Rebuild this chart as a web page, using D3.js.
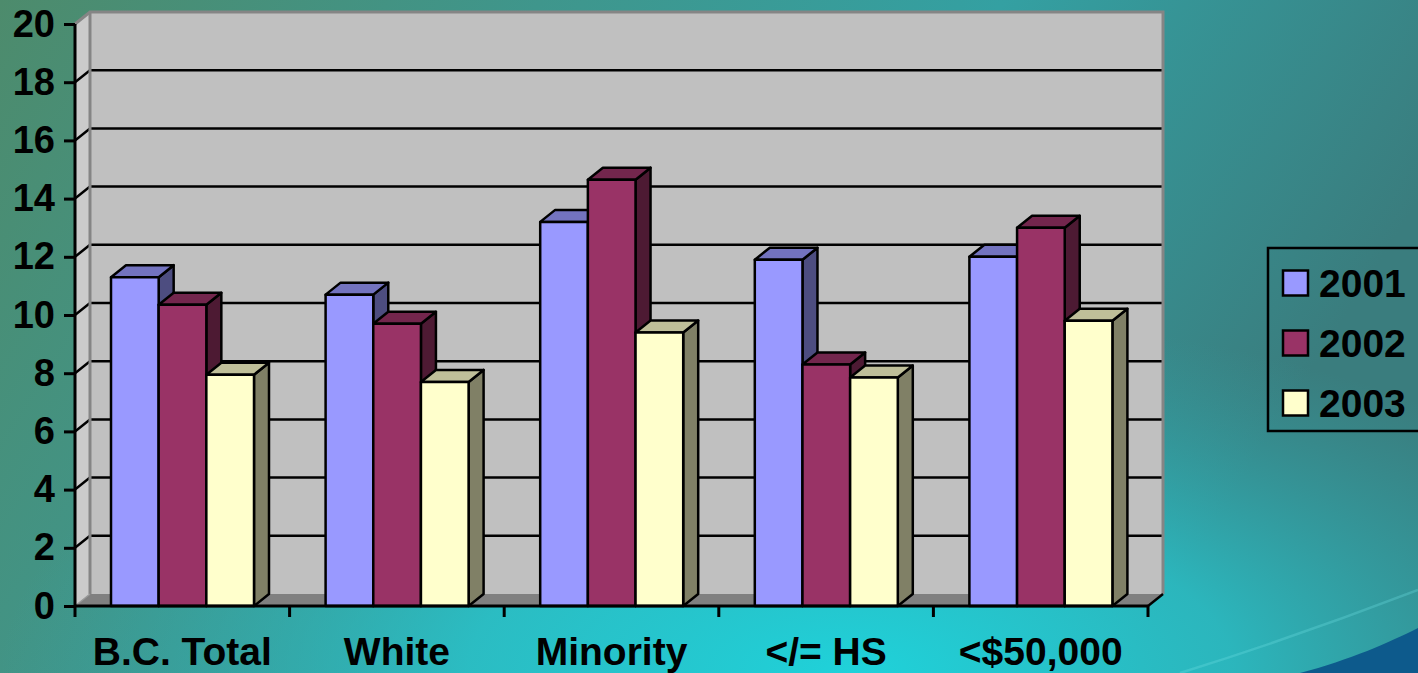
<!DOCTYPE html>
<html>
<head>
<meta charset="utf-8">
<script src="https://cdn.jsdelivr.net/npm/d3@7"></script>
<style>
  html, body { margin: 0; padding: 0; overflow: hidden; }
  svg { display: block; }
  text { font-family: "Liberation Sans", Arial, sans-serif; font-weight: bold; fill: #000; }
</style>
</head>
<body>
<div id="chart"></div>
<script>
// chart data
var categories = ['B.C. Total', 'White', 'Minority', '</= HS', '<$50,000'];
var years = ['2001', '2002', '2003'];
var v2001 = [11.3, 10.7, 13.2, 11.9, 12.0];
var v2002 = [10.35, 9.7, 14.65, 8.3, 13.0];
var v2003 = [7.95, 7.7, 9.4, 7.85, 9.8];
var yTicks = [0, 2, 4, 6, 8, 10, 12, 14, 16, 18, 20];

var seriesValues = [v2001, v2002, v2003];
var faceColors = ['#9999ff', '#993366', '#ffffcc'];

var width = 1418, height = 673;
var dx = 15, dy = -12; // depth offset of the 3d box

var svg = d3.select('#chart')
    .append('svg')
    .attr('width', width)
    .attr('height', height);

// background
var defs = svg.append('defs');
var bg = defs.append('linearGradient').attr('id', 'bg')
    .attr('x1', '0').attr('y1', '0').attr('x2', '1').attr('y2', '0.3');
bg.append('stop').attr('offset', '0').attr('stop-color', '#4d8b6c');
bg.append('stop').attr('offset', '0.35').attr('stop-color', '#3f968c');
bg.append('stop').attr('offset', '0.65').attr('stop-color', '#34a0a2');
bg.append('stop').attr('offset', '1').attr('stop-color', '#3a7d7e');

var glow = defs.append('radialGradient').attr('id', 'glow')
    .attr('cx', '0.6').attr('cy', '1').attr('r', '0.6')
    .attr('gradientTransform', 'translate(0.6,1) scale(1,0.9) translate(-0.6,-1)');
glow.append('stop').attr('offset', '0').attr('stop-color', '#1fd2da').attr('stop-opacity', 1);
glow.append('stop').attr('offset', '0.45').attr('stop-color', '#28c4cc').attr('stop-opacity', 0.8);
glow.append('stop').attr('offset', '1').attr('stop-color', '#30a8ac').attr('stop-opacity', 0);

svg.append('rect').attr('width', width).attr('height', height).attr('fill', 'url(#bg)');
svg.append('rect').attr('width', width).attr('height', height).attr('fill', 'url(#glow)');

// dark swoosh bottom right
svg.append('path')
    .attr('d', 'M1418,628 C1390,642 1350,660 1300,673 L1418,673 Z')
    .attr('fill', '#0d5a8c');
svg.append('path')
    .attr('d', 'M1418,590 C1340,620 1260,648 1180,673')
    .attr('fill', 'none')
    .attr('stroke', '#6fe0e6')
    .attr('stroke-opacity', 0.3)
    .attr('stroke-width', 2.5);

// scales
var x0 = d3.scaleBand().domain(categories).range([75, 1148]);
var x1 = d3.scaleBand().domain(years).range([36, 179]);
var y = d3.scaleLinear().domain([0, 20]).range([606, 24]);

var left = x0.range()[0], right = x0.range()[1];
var yTop = y(20), yBot = y(0);

// walls
var walls = svg.append('g');
// left wall
walls.append('polygon')
    .attr('points', [[left, yTop], [left + dx, yTop + dy], [left + dx, yBot + dy], [left, yBot]].join(' '))
    .attr('fill', '#cbcbcb');
// back wall
walls.append('rect')
    .attr('x', left + dx).attr('y', yTop + dy)
    .attr('width', right - left).attr('height', yBot - yTop)
    .attr('fill', '#c0c0c0');
// floor
walls.append('polygon')
    .attr('points', [[left, yBot], [right, yBot], [right + dx, yBot + dy], [left + dx, yBot + dy]].join(' '))
    .attr('fill', '#808080');

// gridlines
yTicks.filter(function(t) { return t > 0 && t < 20; }).forEach(function(t) {
    walls.append('line')
        .attr('x1', left + dx).attr('x2', right + dx)
        .attr('y1', y(t) + dy).attr('y2', y(t) + dy)
        .attr('stroke', '#000').attr('stroke-width', 2.5);
    walls.append('line')
        .attr('x1', left).attr('x2', left + dx)
        .attr('y1', y(t)).attr('y2', y(t) + dy)
        .attr('stroke', '#000').attr('stroke-width', 2.5);
});

// wall edges
walls.append('polyline')
    .attr('points', [[left, yTop], [left + dx, yTop + dy], [right + dx, yTop + dy], [right + dx, yBot + dy]].join(' '))
    .attr('fill', 'none').attr('stroke', '#858585').attr('stroke-width', 3);
walls.append('line')
    .attr('x1', left + dx).attr('x2', left + dx)
    .attr('y1', yTop + dy).attr('y2', yBot + dy)
    .attr('stroke', '#858585').attr('stroke-width', 3);
walls.append('line')
    .attr('x1', left).attr('x2', left + dx)
    .attr('y1', yBot).attr('y2', yBot + dy)
    .attr('stroke', '#9a9a9a').attr('stroke-width', 1.5);
walls.append('line')
    .attr('x1', right).attr('x2', right + dx)
    .attr('y1', yBot).attr('y2', yBot + dy)
    .attr('stroke', '#000').attr('stroke-width', 2.5);

// bars
function shade(c, k) {
    var col = d3.rgb(c);
    return d3.rgb(col.r * k, col.g * k, col.b * k).toString();
}

var bars = svg.append('g')
    .attr('stroke', '#000')
    .attr('stroke-width', 2.5)
    .attr('stroke-linejoin', 'round');

categories.forEach(function(cat, ci) {
    years.forEach(function(yr, si) {
        var v = seriesValues[si][ci];
        var bx = x0(cat) + x1(yr);
        var bw = x1.bandwidth();
        var top = y(v);
        // side
        bars.append('polygon')
            .attr('points', [[bx + bw, top], [bx + bw + dx, top + dy], [bx + bw + dx, yBot + dy], [bx + bw, yBot]].join(' '))
            .attr('fill', shade(faceColors[si], 0.5));
        // top
        bars.append('polygon')
            .attr('points', [[bx, top], [bx + dx, top + dy], [bx + bw + dx, top + dy], [bx + bw, top]].join(' '))
            .attr('fill', shade(faceColors[si], 0.75));
        // front
        bars.append('rect')
            .attr('x', bx).attr('y', top)
            .attr('width', bw).attr('height', yBot - top)
            .attr('fill', faceColors[si]);
    });
});

// y axis
var yAxis = svg.append('g')
    .attr('transform', 'translate(' + left + ',0)')
    .call(d3.axisLeft(y).tickValues(yTicks).tickSize(11).tickPadding(9));
yAxis.select('.domain').attr('stroke', '#000').attr('stroke-width', 3)
    .attr('d', 'M0,' + yTop + 'V' + yBot);
yAxis.selectAll('.tick line').attr('stroke', '#000').attr('stroke-width', 3);
yAxis.selectAll('.tick text')
    .attr('font-size', 38)
    .attr('font-family', '"Liberation Sans", Arial, sans-serif')
    .attr('font-weight', 'bold')
    .attr('fill', '#000');

// x axis
var xAxis = svg.append('g')
    .attr('transform', 'translate(0,' + yBot + ')')
    .call(d3.axisBottom(x0).tickSize(0).tickPadding(31));
xAxis.select('.domain').attr('stroke', '#000').attr('stroke-width', 3)
    .attr('d', 'M' + left + ',0H' + right);
xAxis.selectAll('.tick text')
    .attr('font-size', 39)
    .attr('font-family', '"Liberation Sans", Arial, sans-serif')
    .attr('font-weight', 'bold')
    .attr('fill', '#000');

// category boundary ticks
var bounds = categories.map(function(c) { return x0(c); }).concat([right]);
xAxis.selectAll('line.bound')
    .data(bounds)
    .enter()
    .append('line')
    .attr('class', 'bound')
    .attr('x1', function(d) { return d; })
    .attr('x2', function(d) { return d; })
    .attr('y1', 0).attr('y2', 11)
    .attr('stroke', '#000').attr('stroke-width', 3);

// legend
var legend = svg.append('g');
legend.append('rect')
    .attr('x', 1268).attr('y', 248)
    .attr('width', 170).attr('height', 183)
    .attr('fill', 'none').attr('stroke', '#000').attr('stroke-width', 2.5);

var items = legend.selectAll('g.item')
    .data(years)
    .enter()
    .append('g')
    .attr('class', 'item')
    .attr('transform', function(d, i) { return 'translate(1283,' + (283 + i * 60) + ')'; });
items.append('rect')
    .attr('x', 0).attr('y', -12.5)
    .attr('width', 25).attr('height', 25)
    .attr('fill', function(d, i) { return faceColors[i]; })
    .attr('stroke', '#000').attr('stroke-width', 2.5);
items.append('text')
    .attr('x', 36).attr('y', 0)
    .attr('dy', '0.36em')
    .attr('font-size', 39)
    .text(function(d) { return d; });
</script>
</body>
</html>
